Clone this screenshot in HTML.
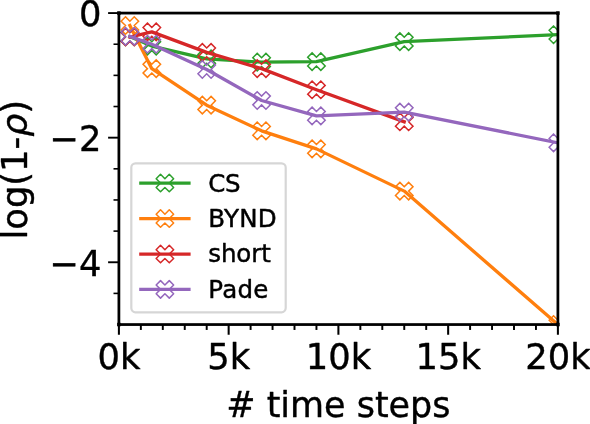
<!DOCTYPE html>
<html><head><meta charset="utf-8"><title>plot</title><style>html,body{margin:0;padding:0;background:#fff}svg{display:block}</style></head><body>
<svg width="590" height="424" viewBox="0 0 590 424">
<rect width="590" height="424" fill="#fff"/>
<defs><clipPath id="ax"><rect x="118.90" y="13.08" width="439.00" height="311.47"/></clipPath></defs>
<g><line x1="118.90" y1="324.55" x2="118.90" y2="334.75" stroke="#000" stroke-width="2.05"/><line x1="140.85" y1="324.55" x2="140.85" y2="329.95" stroke="#000" stroke-width="1.95"/><line x1="162.80" y1="324.55" x2="162.80" y2="329.95" stroke="#000" stroke-width="1.95"/><line x1="184.75" y1="324.55" x2="184.75" y2="329.95" stroke="#000" stroke-width="1.95"/><line x1="206.70" y1="324.55" x2="206.70" y2="329.95" stroke="#000" stroke-width="1.95"/><line x1="228.65" y1="324.55" x2="228.65" y2="334.75" stroke="#000" stroke-width="2.05"/><line x1="250.60" y1="324.55" x2="250.60" y2="329.95" stroke="#000" stroke-width="1.95"/><line x1="272.55" y1="324.55" x2="272.55" y2="329.95" stroke="#000" stroke-width="1.95"/><line x1="294.50" y1="324.55" x2="294.50" y2="329.95" stroke="#000" stroke-width="1.95"/><line x1="316.45" y1="324.55" x2="316.45" y2="329.95" stroke="#000" stroke-width="1.95"/><line x1="338.40" y1="324.55" x2="338.40" y2="334.75" stroke="#000" stroke-width="2.05"/><line x1="360.35" y1="324.55" x2="360.35" y2="329.95" stroke="#000" stroke-width="1.95"/><line x1="382.30" y1="324.55" x2="382.30" y2="329.95" stroke="#000" stroke-width="1.95"/><line x1="404.25" y1="324.55" x2="404.25" y2="329.95" stroke="#000" stroke-width="1.95"/><line x1="426.20" y1="324.55" x2="426.20" y2="329.95" stroke="#000" stroke-width="1.95"/><line x1="448.15" y1="324.55" x2="448.15" y2="334.75" stroke="#000" stroke-width="2.05"/><line x1="470.10" y1="324.55" x2="470.10" y2="329.95" stroke="#000" stroke-width="1.95"/><line x1="492.05" y1="324.55" x2="492.05" y2="329.95" stroke="#000" stroke-width="1.95"/><line x1="514.00" y1="324.55" x2="514.00" y2="329.95" stroke="#000" stroke-width="1.95"/><line x1="535.95" y1="324.55" x2="535.95" y2="329.95" stroke="#000" stroke-width="1.95"/><line x1="557.90" y1="324.55" x2="557.90" y2="334.75" stroke="#000" stroke-width="2.05"/><line x1="118.90" y1="13.08" x2="108.10" y2="13.08" stroke="#000" stroke-width="1.90"/><line x1="118.90" y1="44.23" x2="113.50" y2="44.23" stroke="#000" stroke-width="1.60"/><line x1="118.90" y1="75.37" x2="113.50" y2="75.37" stroke="#000" stroke-width="1.60"/><line x1="118.90" y1="106.52" x2="113.50" y2="106.52" stroke="#000" stroke-width="1.60"/><line x1="118.90" y1="137.67" x2="108.10" y2="137.67" stroke="#000" stroke-width="1.90"/><line x1="118.90" y1="168.82" x2="113.50" y2="168.82" stroke="#000" stroke-width="1.60"/><line x1="118.90" y1="199.96" x2="113.50" y2="199.96" stroke="#000" stroke-width="1.60"/><line x1="118.90" y1="231.11" x2="113.50" y2="231.11" stroke="#000" stroke-width="1.60"/><line x1="118.90" y1="262.26" x2="108.10" y2="262.26" stroke="#000" stroke-width="1.90"/><line x1="118.90" y1="293.40" x2="113.50" y2="293.40" stroke="#000" stroke-width="1.60"/></g>
<g clip-path="url(#ax)" fill="none" stroke-linejoin="round">
<polyline points="129.88,36.75 151.82,46.10 206.70,58.93 261.58,62.11 316.45,61.61 404.25,41.61 557.90,34.70" stroke="#2ca02c" stroke-width="3.30" stroke-linecap="square"/>
<path d="M125.50 28.00L129.88 32.38L134.25 28.00L138.62 32.38L134.25 36.75L138.62 41.13L134.25 45.50L129.88 41.13L125.50 45.50L121.12 41.13L125.50 36.75L121.12 32.38Z" stroke="#2ca02c" stroke-width="1.50" stroke-linejoin="miter"/>
<path d="M147.45 37.35L151.82 41.72L156.20 37.35L160.57 41.72L156.20 46.10L160.57 50.47L156.20 54.85L151.82 50.47L147.45 54.85L143.07 50.47L147.45 46.10L143.07 41.72Z" stroke="#2ca02c" stroke-width="1.50" stroke-linejoin="miter"/>
<path d="M202.32 50.18L206.70 54.55L211.07 50.18L215.45 54.55L211.07 58.93L215.45 63.30L211.07 67.68L206.70 63.30L202.32 67.68L197.95 63.30L202.32 58.93L197.95 54.55Z" stroke="#2ca02c" stroke-width="1.50" stroke-linejoin="miter"/>
<path d="M257.20 53.36L261.58 57.73L265.95 53.36L270.33 57.73L265.95 62.11L270.33 66.48L265.95 70.86L261.58 66.48L257.20 70.86L252.83 66.48L257.20 62.11L252.83 57.73Z" stroke="#2ca02c" stroke-width="1.50" stroke-linejoin="miter"/>
<path d="M312.08 52.86L316.45 57.23L320.83 52.86L325.20 57.23L320.83 61.61L325.20 65.98L320.83 70.36L316.45 65.98L312.08 70.36L307.70 65.98L312.08 61.61L307.70 57.23Z" stroke="#2ca02c" stroke-width="1.50" stroke-linejoin="miter"/>
<path d="M399.88 32.86L404.25 37.24L408.62 32.86L413.00 37.24L408.62 41.61L413.00 45.99L408.62 50.36L404.25 45.99L399.88 50.36L395.50 45.99L399.88 41.61L395.50 37.24Z" stroke="#2ca02c" stroke-width="1.50" stroke-linejoin="miter"/>
<path d="M553.52 25.95L557.90 30.32L562.27 25.95L566.65 30.32L562.27 34.70L566.65 39.07L562.27 43.45L557.90 39.07L553.52 43.45L549.15 39.07L553.52 34.70L549.15 30.32Z" stroke="#2ca02c" stroke-width="1.50" stroke-linejoin="miter"/>
<polyline points="129.88,25.54 151.82,68.65 206.70,105.15 261.58,130.82 316.45,148.88 404.25,191.12 557.90,324.55" stroke="#ff7f0e" stroke-width="3.30" stroke-linecap="square"/>
<path d="M125.50 16.79L129.88 21.16L134.25 16.79L138.62 21.16L134.25 25.54L138.62 29.91L134.25 34.29L129.88 29.91L125.50 34.29L121.12 29.91L125.50 25.54L121.12 21.16Z" stroke="#ff7f0e" stroke-width="1.50" stroke-linejoin="miter"/>
<path d="M147.45 59.90L151.82 64.27L156.20 59.90L160.57 64.27L156.20 68.65L160.57 73.02L156.20 77.40L151.82 73.02L147.45 77.40L143.07 73.02L147.45 68.65L143.07 64.27Z" stroke="#ff7f0e" stroke-width="1.50" stroke-linejoin="miter"/>
<path d="M202.32 96.40L206.70 100.78L211.07 96.40L215.45 100.78L211.07 105.15L215.45 109.53L211.07 113.90L206.70 109.53L202.32 113.90L197.95 109.53L202.32 105.15L197.95 100.78Z" stroke="#ff7f0e" stroke-width="1.50" stroke-linejoin="miter"/>
<path d="M257.20 122.07L261.58 126.44L265.95 122.07L270.33 126.44L265.95 130.82L270.33 135.19L265.95 139.57L261.58 135.19L257.20 139.57L252.83 135.19L257.20 130.82L252.83 126.44Z" stroke="#ff7f0e" stroke-width="1.50" stroke-linejoin="miter"/>
<path d="M312.08 140.13L316.45 144.51L320.83 140.13L325.20 144.51L320.83 148.88L325.20 153.26L320.83 157.63L316.45 153.26L312.08 157.63L307.70 153.26L312.08 148.88L307.70 144.51Z" stroke="#ff7f0e" stroke-width="1.50" stroke-linejoin="miter"/>
<path d="M399.88 182.37L404.25 186.74L408.62 182.37L413.00 186.74L408.62 191.12L413.00 195.49L408.62 199.87L404.25 195.49L399.88 199.87L395.50 195.49L399.88 191.12L395.50 186.74Z" stroke="#ff7f0e" stroke-width="1.50" stroke-linejoin="miter"/>
<path d="M553.52 315.80L557.90 320.18L562.27 315.80L566.65 320.18L562.27 324.55L566.65 328.93L562.27 333.30L557.90 328.93L553.52 333.30L549.15 328.93L553.52 324.55L549.15 320.18Z" stroke="#ff7f0e" stroke-width="1.50" stroke-linejoin="miter"/>
<polyline points="129.88,37.00 151.82,31.89 206.70,52.39 261.58,68.65 316.45,89.76 404.25,121.78" stroke="#d62728" stroke-width="3.30" stroke-linecap="square"/>
<path d="M125.50 28.25L129.88 32.63L134.25 28.25L138.62 32.63L134.25 37.00L138.62 41.38L134.25 45.75L129.88 41.38L125.50 45.75L121.12 41.38L125.50 37.00L121.12 32.63Z" stroke="#d62728" stroke-width="1.50" stroke-linejoin="miter"/>
<path d="M147.45 23.14L151.82 27.52L156.20 23.14L160.57 27.52L156.20 31.89L160.57 36.27L156.20 40.64L151.82 36.27L147.45 40.64L143.07 36.27L147.45 31.89L143.07 27.52Z" stroke="#d62728" stroke-width="1.50" stroke-linejoin="miter"/>
<path d="M202.32 43.64L206.70 48.01L211.07 43.64L215.45 48.01L211.07 52.39L215.45 56.76L211.07 61.14L206.70 56.76L202.32 61.14L197.95 56.76L202.32 52.39L197.95 48.01Z" stroke="#d62728" stroke-width="1.50" stroke-linejoin="miter"/>
<path d="M257.20 59.90L261.58 64.27L265.95 59.90L270.33 64.27L265.95 68.65L270.33 73.02L265.95 77.40L261.58 73.02L257.20 77.40L252.83 73.02L257.20 68.65L252.83 64.27Z" stroke="#d62728" stroke-width="1.50" stroke-linejoin="miter"/>
<path d="M312.08 81.01L316.45 85.39L320.83 81.01L325.20 85.39L320.83 89.76L325.20 94.14L320.83 98.51L316.45 94.14L312.08 98.51L307.70 94.14L312.08 89.76L307.70 85.39Z" stroke="#d62728" stroke-width="1.50" stroke-linejoin="miter"/>
<path d="M399.88 113.03L404.25 117.41L408.62 113.03L413.00 117.41L408.62 121.78L413.00 126.16L408.62 130.53L404.25 126.16L399.88 130.53L395.50 126.16L399.88 121.78L395.50 117.41Z" stroke="#d62728" stroke-width="1.50" stroke-linejoin="miter"/>
<polyline points="129.88,36.38 151.82,44.23 206.70,69.46 261.58,100.48 316.45,115.87 404.25,112.13 557.90,142.84" stroke="#9467bd" stroke-width="3.30" stroke-linecap="square"/>
<path d="M125.50 27.63L129.88 32.00L134.25 27.63L138.62 32.00L134.25 36.38L138.62 40.75L134.25 45.13L129.88 40.75L125.50 45.13L121.12 40.75L125.50 36.38L121.12 32.00Z" stroke="#9467bd" stroke-width="1.50" stroke-linejoin="miter"/>
<path d="M147.45 35.48L151.82 39.85L156.20 35.48L160.57 39.85L156.20 44.23L160.57 48.60L156.20 52.98L151.82 48.60L147.45 52.98L143.07 48.60L147.45 44.23L143.07 39.85Z" stroke="#9467bd" stroke-width="1.50" stroke-linejoin="miter"/>
<path d="M202.32 60.71L206.70 65.08L211.07 60.71L215.45 65.08L211.07 69.46L215.45 73.83L211.07 78.21L206.70 73.83L202.32 78.21L197.95 73.83L202.32 69.46L197.95 65.08Z" stroke="#9467bd" stroke-width="1.50" stroke-linejoin="miter"/>
<path d="M257.20 91.73L261.58 96.10L265.95 91.73L270.33 96.10L265.95 100.48L270.33 104.85L265.95 109.23L261.58 104.85L257.20 109.23L252.83 104.85L257.20 100.48L252.83 96.10Z" stroke="#9467bd" stroke-width="1.50" stroke-linejoin="miter"/>
<path d="M312.08 107.12L316.45 111.49L320.83 107.12L325.20 111.49L320.83 115.87L325.20 120.24L320.83 124.62L316.45 120.24L312.08 124.62L307.70 120.24L312.08 115.87L307.70 111.49Z" stroke="#9467bd" stroke-width="1.50" stroke-linejoin="miter"/>
<path d="M399.88 103.38L404.25 107.75L408.62 103.38L413.00 107.75L408.62 112.13L413.00 116.50L408.62 120.88L404.25 116.50L399.88 120.88L395.50 116.50L399.88 112.13L395.50 107.75Z" stroke="#9467bd" stroke-width="1.50" stroke-linejoin="miter"/>
<path d="M553.52 134.09L557.90 138.46L562.27 134.09L566.65 138.46L562.27 142.84L566.65 147.21L562.27 151.59L557.90 147.21L553.52 151.59L549.15 147.21L553.52 142.84L549.15 138.46Z" stroke="#9467bd" stroke-width="1.50" stroke-linejoin="miter"/>
</g>
<rect x="118.90" y="13.08" width="439.00" height="311.47" fill="none" stroke="#000" stroke-width="2.75"/>
<rect x="117.15" y="11.33" width="3.5" height="3.5" fill="#000"/>
<rect x="556.15" y="11.33" width="3.5" height="3.5" fill="#000"/>
<rect x="117.15" y="322.80" width="3.5" height="3.5" fill="#000"/>
<rect x="556.15" y="322.80" width="3.5" height="3.5" fill="#000"/>
<g font-family="'DejaVu Sans', 'Liberation Sans', sans-serif" font-size="35.30" fill="#000" stroke="#000" stroke-width="0.38" stroke-linejoin="round"><text x="118.90" y="368.60" text-anchor="middle">0k</text><text x="228.65" y="368.60" text-anchor="middle">5k</text><text x="338.40" y="368.60" text-anchor="middle">10k</text><text x="448.15" y="368.60" text-anchor="middle">15k</text><text x="557.90" y="368.60" text-anchor="middle">20k</text><text x="101.40" y="26.48" text-anchor="end">0</text><text x="101.40" y="151.07" text-anchor="end">−2</text><text x="101.40" y="275.66" text-anchor="end">−4</text><text x="338.4" y="417.3" text-anchor="middle" font-size="34.95"># time steps</text><text transform="translate(26.9,169.7) rotate(-90)" text-anchor="middle">log(1-<tspan font-style="oblique" font-size="36.3">ρ</tspan>)</text></g>
<rect x="131.30" y="163.40" width="154.40" height="148.90" rx="4.2" ry="4.2" fill="#fff" fill-opacity="0.8" stroke="#ccc" stroke-opacity="0.8" stroke-width="2.2"/>
<g font-family="'DejaVu Sans', 'Liberation Sans', sans-serif" font-size="24.50" fill="#000" stroke="#000" stroke-width="0.45" stroke-linejoin="round" letter-spacing="0.25">
<line x1="139.20" y1="183.05" x2="190.60" y2="183.05" stroke="#2ca02c" stroke-width="3.30"/>
<path d="M160.53 174.30L164.90 178.68L169.28 174.30L173.65 178.68L169.28 183.05L173.65 187.43L169.28 191.80L164.90 187.43L160.53 191.80L156.15 187.43L160.53 183.05L156.15 178.68Z" fill="none" stroke="#2ca02c" stroke-width="1.50"/>
<text x="208.30" y="191.85" letter-spacing="-0.50">CS</text>
<line x1="139.20" y1="218.55" x2="190.60" y2="218.55" stroke="#ff7f0e" stroke-width="3.30"/>
<path d="M160.53 209.80L164.90 214.18L169.28 209.80L173.65 214.18L169.28 218.55L173.65 222.93L169.28 227.30L164.90 222.93L160.53 227.30L156.15 222.93L160.53 218.55L156.15 214.18Z" fill="none" stroke="#ff7f0e" stroke-width="1.50"/>
<text x="208.30" y="227.12" letter-spacing="0.25">BYND</text>
<line x1="139.20" y1="254.09" x2="190.60" y2="254.09" stroke="#d62728" stroke-width="3.30"/>
<path d="M160.53 245.34L164.90 249.72L169.28 245.34L173.65 249.72L169.28 254.09L173.65 258.47L169.28 262.84L164.90 258.47L160.53 262.84L156.15 258.47L160.53 254.09L156.15 249.72Z" fill="none" stroke="#d62728" stroke-width="1.50"/>
<text x="208.30" y="262.39" letter-spacing="-0.12">short</text>
<line x1="139.20" y1="289.36" x2="190.60" y2="289.36" stroke="#9467bd" stroke-width="3.30"/>
<path d="M160.53 280.61L164.90 284.99L169.28 280.61L173.65 284.99L169.28 289.36L173.65 293.74L169.28 298.11L164.90 293.74L160.53 298.11L156.15 293.74L160.53 289.36L156.15 284.99Z" fill="none" stroke="#9467bd" stroke-width="1.50"/>
<text x="208.30" y="297.66" letter-spacing="0.25">Pade</text>
</g>
</svg>
</body></html>
